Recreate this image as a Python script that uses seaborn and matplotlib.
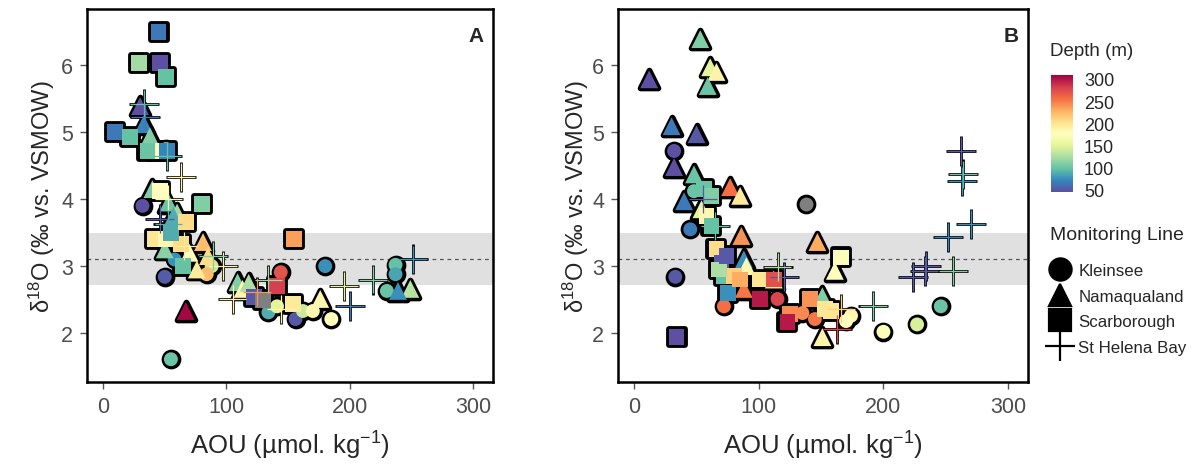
import numpy as np
import pandas as pd
import matplotlib
matplotlib.use("Agg")
import matplotlib.pyplot as plt
import seaborn as sns
from matplotlib.lines import Line2D

# ---- data (AOU, d18O, depth, monitoring line) ----
lines = ["Kleinsee", "Namaqualand", "Scarborough", "St Helena Bay"]

# panel A
a_k_aou = [32, 50, 55, 51, 144, 180, 237, 237, 134, 156, 185, 141, 88, 230, 162, 170, 84, 58]
a_k_d18o = [3.90, 2.84, 1.61, 4.75, 2.91, 3.00, 3.02, 2.88, 2.31, 2.21, 2.21, 2.40, 3.00, 2.63, 2.33, 2.33, 2.88, 3.10]
a_k_depth = [45, 52, 100, 98, 270, 75, 98, 85, 88, 50, 175, 150, 138, 100, 138, 185, 222, 75]

a_n_aou = [30, 33, 38, 40, 53, 50, 67, 76, 81, 60, 109, 113, 118, 176, 249, 239, 85, 70, 57]
a_n_d18o = [5.39, 5.12, 4.94, 4.15, 3.95, 3.25, 2.33, 2.95, 3.36, 3.80, 2.76, 2.66, 2.75, 2.51, 2.66, 2.63, 3.15, 3.20, 3.75]
a_n_depth = [45, 70, 108, 108, 100, 112, 305, 195, 222, 120, 108, 185, 126, 185, 130, 75, 205, 175, 88]

a_s_aou = [45, 29, 46, 51, 10, 22, 43, 52, 36, 80, 46, 42, 51, 63, 55, 65, 155, 130, 141, 154, 67, 122]
a_s_d18o = [6.50, 6.03, 6.03, 5.82, 5.00, 4.93, 4.72, 4.72, 4.72, 3.93, 4.12, 3.40, 3.40, 3.33, 3.50, 3.00, 3.40, 2.49, 2.70, 2.43, 3.66, 2.54]
a_s_depth = [65, 122, 45, 98, 65, 98, 175, 70, 100, 108, 178, 198, 185, 205, 88, 98, 235, np.nan, 282, 195, 205, 50]

a_h_aou = [33, 34, 52, 63, 53, 46, 53, 97, 89, 105, 125, 134, 195, 200, 219, 251, 144, 66]
a_h_d18o = [5.42, 5.22, 4.64, 4.33, 4.00, 3.70, 3.63, 3.00, 3.15, 2.51, 2.61, 2.80, 2.70, 2.40, 2.80, 3.10, 2.36, 3.30]
a_h_depth = [98, 65, 98, 185, 185, 50, 88, 185, 108, 188, 240, 120, 150, 65, 108, 75, 185, 195]

# panel B
b_k_aou = [32, 45, 33, 138, 115, 72, 145, 174, 200, 227, 246, 48, 135, 170]
b_k_d18o = [4.72, 3.55, 2.84, 3.93, 2.51, 2.40, 2.21, 2.26, 2.02, 2.13, 2.40, 4.12, 2.30, 2.18]
b_k_depth = [45, 65, 50, np.nan, 278, 256, 252, 185, 172, 145, 100, 100, 245, 178]

b_n_aou = [12, 53, 61, 66, 59, 30, 50, 32, 48, 40, 77, 85, 86, 147, 161, 151, 151, 88, 54, 90, 88, 112]
b_n_d18o = [5.79, 6.39, 5.97, 5.90, 5.69, 5.09, 4.97, 4.48, 4.37, 3.97, 4.18, 4.05, 3.45, 3.36, 2.93, 1.94, 2.55, 3.10, 3.85, 3.00, 2.66, 2.80]
b_n_depth = [45, 108, 150, 188, 100, 65, 50, 45, 100, 65, 256, 195, 240, 230, 172, 188, 108, 75, 150, 185, 252, 195]

b_s_aou = [34, 166, 56, 62, 58, 62, 66, 70, 72, 75, 101, 112, 101, 125, 123, 141, 153, 158, 80, 68, 74, 85]
b_s_d18o = [1.94, 3.13, 4.15, 4.05, 3.75, 3.60, 3.25, 3.05, 2.85, 2.60, 2.80, 2.80, 2.51, 2.28, 2.16, 2.51, 2.36, 2.33, 2.85, 2.95, 3.15, 2.80]
b_s_depth = [45, 172, 100, 108, 185, 98, 205, 50, 98, 75, 198, 272, 298, 245, 298, 240, 198, 198, 212, 126, 50, 230]

b_h_aou = [262, 264, 263, 270, 252, 234, 233, 224, 256, 192, 166, 163, 120, 115, 65, 55]
b_h_d18o = [4.72, 4.37, 4.27, 3.63, 3.43, 3.00, 2.93, 2.84, 2.93, 2.40, 2.36, 2.06, 2.84, 2.99, 3.60, 4.00]
b_h_depth = [50, 100, 75, 75, 70, 50, 50, 50, 108, 108, 212, 278, 50, 126, 98, 50]

ref_mean = 3.1
ref_band = (2.72, 3.49)


def frame(k, n, s, h):
    parts = []
    for name, (x, y, d) in zip(lines, [k, n, s, h]):
        parts.append(pd.DataFrame({"AOU": x, "d18O": y, "Depth": d, "Line": name}))
    return pd.concat(parts, ignore_index=True)


df_a = frame((a_k_aou, a_k_d18o, a_k_depth), (a_n_aou, a_n_d18o, a_n_depth),
             (a_s_aou, a_s_d18o, a_s_depth), (a_h_aou, a_h_d18o, a_h_depth))
df_b = frame((b_k_aou, b_k_d18o, b_k_depth), (b_n_aou, b_n_d18o, b_n_depth),
             (b_s_aou, b_s_d18o, b_s_depth), (b_h_aou, b_h_d18o, b_h_depth))

sns.set_style("white")
plt.rcParams["font.family"] = ["Liberation Sans", "DejaVu Sans"]
plt.rcParams["mathtext.default"] = "regular"

markers = {"Kleinsee": "o", "Namaqualand": "^", "Scarborough": "s", "St Helena Bay": "+"}
sizes = {"Kleinsee": 100, "Namaqualand": 165, "Scarborough": 130, "St Helena Bay": 470}
cmap = "Spectral_r"
norm = (45, 309)

fig = plt.figure(figsize=(12.02, 4.77), dpi=100)
ax_a = fig.add_axes([87 / 1202, 1 - 383 / 477, 406 / 1202, 373 / 477])
ax_b = fig.add_axes([618 / 1202, 1 - 383 / 477, 410 / 1202, 373 / 477])


def draw(ax, df, letter, ylab_x):
    ax.axhspan(*ref_band, color="#e0e0e0", zorder=0, lw=0)
    ax.axhline(ref_mean, color="#555555", ls=(0, (3, 3)), lw=0.9, zorder=1)
    # black outline layer
    for ln in lines:
        sub = df[df.Line == ln]
        if markers[ln] == "+":
            sns.scatterplot(data=sub, x="AOU", y="d18O", marker="+", s=sizes[ln],
                            color="black", linewidth=2.0, ax=ax, legend=False, zorder=3)
        else:
            sns.scatterplot(data=sub, x="AOU", y="d18O", marker=markers[ln], s=sizes[ln],
                            color="black", edgecolor="black", linewidth=4.2,
                            ax=ax, legend=False, zorder=2)
    # coloured layer
    for ln in lines:
        sub = df[df.Line == ln]
        ok = sub[sub.Depth.notna()]
        na = sub[sub.Depth.isna()]
        if markers[ln] == "+":
            cols = plt.get_cmap(cmap)((ok.Depth - norm[0]) / (norm[1] - norm[0]))
            ax.scatter(ok.AOU, ok.d18O, marker="+", s=sizes[ln] * 0.85, c=cols,
                       linewidths=0.9, zorder=4)
        else:
            sns.scatterplot(data=ok, x="AOU", y="d18O", hue="Depth", palette=cmap,
                            hue_norm=norm, marker=markers[ln], s=sizes[ln],
                            linewidth=0, ax=ax, legend=False, zorder=3)
            if len(na):
                sns.scatterplot(data=na, x="AOU", y="d18O", color="#7f7f7f",
                                marker=markers[ln], s=sizes[ln], linewidth=0,
                                ax=ax, legend=False, zorder=3)
    ax.set_xlim(-13, 316)
    ax.set_ylim(1.27, 6.84)
    ax.set_xticks([0, 100, 200, 300])
    ax.set_yticks([2, 3, 4, 5, 6])
    ax.tick_params(axis="both", which="both", bottom=True, left=True, length=5,
                   width=1, color="#555555", labelsize=15.5, labelcolor="#4d4d4d", pad=5)
    for sp in ax.spines.values():
        sp.set_color("black")
        sp.set_linewidth(1.8)
    ax.set_xlabel("AOU (µmol. kg$^{-1}$)", fontsize=18.5)
    ax.xaxis.set_label_coords(0.5, -0.125)
    ax.set_ylabel("δ$^{18}$O (‰ vs. VSMOW)", fontsize=17)
    ax.yaxis.set_label_coords(ylab_x, 0.5)
    ax.text(0.958, 0.928, letter, transform=ax.transAxes, ha="center", va="center",
            fontsize=15, fontweight="bold")


draw(ax_a, df_a, "A", -0.075)
draw(ax_b, df_b, "B", -0.065)

# depth colour bar
cax = fig.add_axes([1051 / 1202, 1 - 193 / 477, 22 / 1202, 117 / 477])
sm = plt.cm.ScalarMappable(cmap=cmap, norm=plt.Normalize(*norm))
cb = fig.colorbar(sm, cax=cax, ticks=[50, 100, 150, 200, 250, 300])
cb.outline.set_visible(False)
cax.tick_params(direction="in", color="white", length=4, width=1, left=True, right=True,
                labelsize=13, pad=8)
fig.text(1050 / 1202, 1 - 52 / 477, "Depth (m)", fontsize=13.5, va="center", ha="left")

# monitoring line legend
fig.text(1050 / 1202, 1 - 235 / 477, "Monitoring Line", fontsize=14, va="center", ha="left")
handles = [Line2D([], [], ls="", marker=markers[ln], color="black",
                  markersize=22 if ln == "St Helena Bay" else 16, markeredgewidth=1.6)
           for ln in lines]
fig.legend(handles, lines, loc="upper left",
           bbox_to_anchor=(1047 / 1202, 1 - 264 / 477), frameon=False, fontsize=12.2,
           handletextpad=0.35, labelspacing=0.62, borderaxespad=0, borderpad=0,
           handlelength=1.5)

fig.savefig("out.png", dpi=100)
